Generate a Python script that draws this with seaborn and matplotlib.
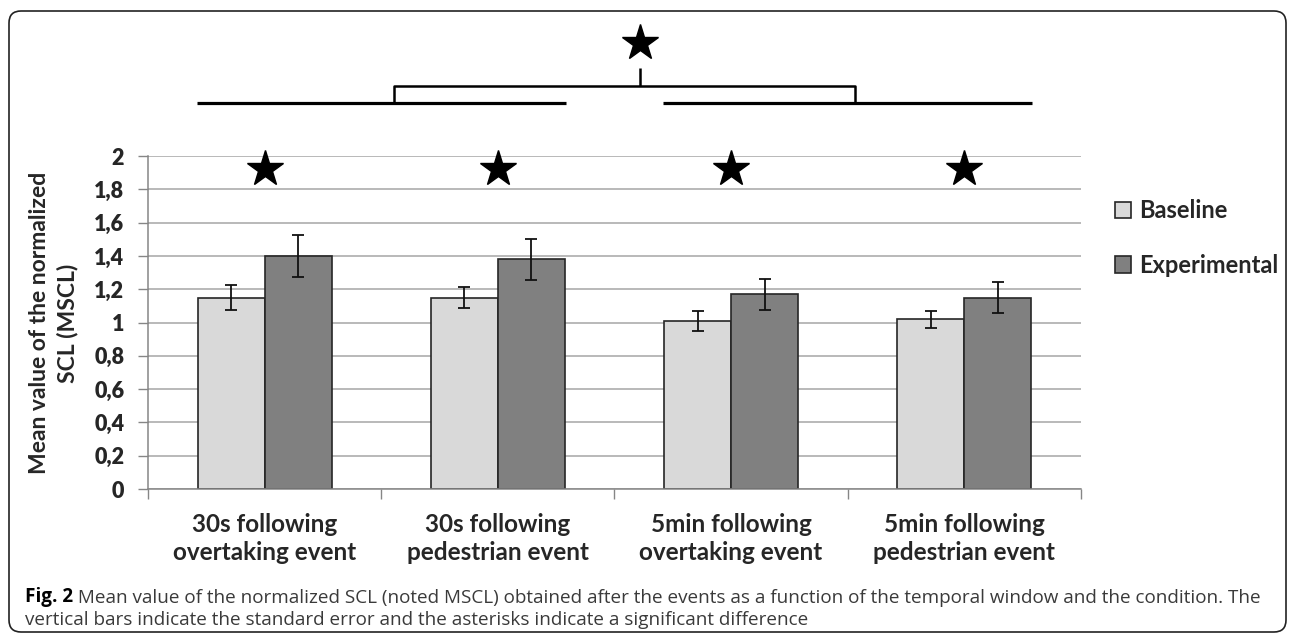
import pandas as pd
import matplotlib.pyplot as plt
import seaborn as sns
from matplotlib.patches import FancyBboxPatch

# values
categories = [
    "30s following\novertaking event",
    "30s following\npedestrian event",
    "5min following\novertaking event",
    "5min following\npedestrian event",
]
conditions = ["Baseline", "Experimental"]
baseline_mean = [1.15, 1.15, 1.01, 1.02]
experimental_mean = [1.40, 1.38, 1.17, 1.15]
baseline_se = [0.077, 0.065, 0.061, 0.051]
experimental_se = [0.125, 0.122, 0.092, 0.091]
y_ticks = [0, 0.2, 0.4, 0.6, 0.8, 1.0, 1.2, 1.4, 1.6, 1.8, 2.0]
y_tick_labels = ["0", "0,2", "0,4", "0,6", "0,8", "1", "1,2", "1,4", "1,6", "1,8", "2"]

caption_bold = "Fig. 2"
caption_line1 = (" Mean value of the normalized SCL (noted MSCL) obtained after the events "
                 "as a function of the temporal window and the condition. The")
caption_line2 = "vertical bars indicate the standard error and the asterisks indicate a significant difference"

df = pd.DataFrame({
    "window": categories * 2,
    "condition": [conditions[0]] * 4 + [conditions[1]] * 4,
    "mscl": baseline_mean + experimental_mean,
    "se": baseline_se + experimental_se,
})

sns.set_theme(style="whitegrid")
plt.rcParams["font.family"] = ["Lato", "DejaVu Sans"]

fig = plt.figure(figsize=(12.9, 6.34), dpi=100)
ax = fig.add_axes([0.1147, 0.2287, 0.7233, 0.5252])

sns.barplot(data=df, x="window", y="mscl", hue="condition", order=categories,
            hue_order=conditions, palette=["#d9d9d9", "#808080"], width=0.575, gap=0,
            errorbar=None, edgecolor="#262626", linewidth=1.2, ax=ax)

# standard error bars on each bar
for cont, cond in zip(ax.containers, conditions):
    sub = df[df["condition"] == cond]
    xs = [b.get_x() + b.get_width() / 2 for b in cont]
    ax.errorbar(xs, sub["mscl"], yerr=sub["se"], fmt="none", ecolor="#111111",
                elinewidth=1.3, capsize=4, capthick=1.3, zorder=5)

ax.set_xlim(-0.5, 3.5)
ax.set_ylim(0, 2)
ax.set_yticks(y_ticks)
ax.set_yticklabels(y_tick_labels, fontsize=15.5, fontweight="heavy")
ax.set_xticks([-0.5, 0.5, 1.5, 2.5, 3.5])
ax.set_xticklabels([])
ax.set_xticks(range(4), minor=True)
ax.set_xticklabels(categories, minor=True, fontsize=17.5, fontweight="bold", linespacing=1.3)
ax.tick_params(axis="x", which="minor", length=0, pad=17)
ax.tick_params(axis="both", which="major", bottom=True, left=True, length=7,
               width=1, color="#868686", direction="out")
ax.tick_params(axis="y", pad=10)
ax.set_xlabel("")
ax.set_ylabel("")
ax.xaxis.grid(False)
ax.yaxis.grid(True, color="#a6a6a6", linewidth=1.1)
ax.set_axisbelow(True)
for side in ["top", "right"]:
    ax.spines[side].set_visible(False)
for side in ["left", "bottom"]:
    ax.spines[side].set_color("#868686")
    ax.spines[side].set_linewidth(1.1)

# significance stars per window
ax.plot(range(4), [1.92] * 4, linestyle="none", marker="*", markersize=27,
        color="black", clip_on=False)

# group comparison bracket above the plot
line_kw = dict(color="black", clip_on=False, solid_capstyle="butt")
ax.plot([-0.29, 1.29], [2.318, 2.318], linewidth=2.3, **line_kw)
ax.plot([1.71, 3.29], [2.318, 2.318], linewidth=2.3, **line_kw)
ax.plot([0.555, 0.555, 2.531, 2.531], [2.318, 2.42, 2.42, 2.318], linewidth=1.8, **line_kw)
ax.plot([1.609, 1.609], [2.42, 2.53], linewidth=1.8, **line_kw)
ax.plot([1.609], [2.68], marker="*", markersize=27, color="black", clip_on=False)

ax.legend(handles=ax.containers, labels=conditions, loc="center left",
          bbox_to_anchor=(0.864, 0.6246), bbox_transform=fig.transFigure,
          frameon=False, handlelength=0.7, handleheight=0.7, handletextpad=0.35,
          labelspacing=1.35, borderpad=0, borderaxespad=0,
          prop=dict(weight="bold", size=17))

fig.text(0.0415, 0.4905, "Mean value of the normalized\nSCL (MSCL)", rotation=90,
         ha="center", va="center", fontsize=16.5, fontweight="bold", linespacing=1.4)

# caption, bold figure number followed by regular text
cap_font = ["Open Sans", "DejaVu Sans"]
t1 = fig.text(25 / 1290, 1 - 597 / 634, caption_bold, fontsize=13.6, fontweight="bold",
              family=cap_font, va="center", color="black")
ax.annotate(caption_line1, xy=(1, 0), xycoords=t1, va="bottom", ha="left",
            fontsize=13.6, family=cap_font, color="#3a3a3a")
fig.text(25 / 1290, 1 - 620 / 634, caption_line2, fontsize=13.6,
         family=cap_font, va="center", color="#3a3a3a")

# rounded frame around the whole figure
frame = FancyBboxPatch((0.09, 0.02), 12.77, 6.21, boxstyle="round,pad=0,rounding_size=0.12",
                       transform=fig.dpi_scale_trans, fill=False, edgecolor="#222222",
                       linewidth=1.2)
fig.patches.append(frame)

fig.savefig("out.png", dpi=100)
plt.close(fig)
